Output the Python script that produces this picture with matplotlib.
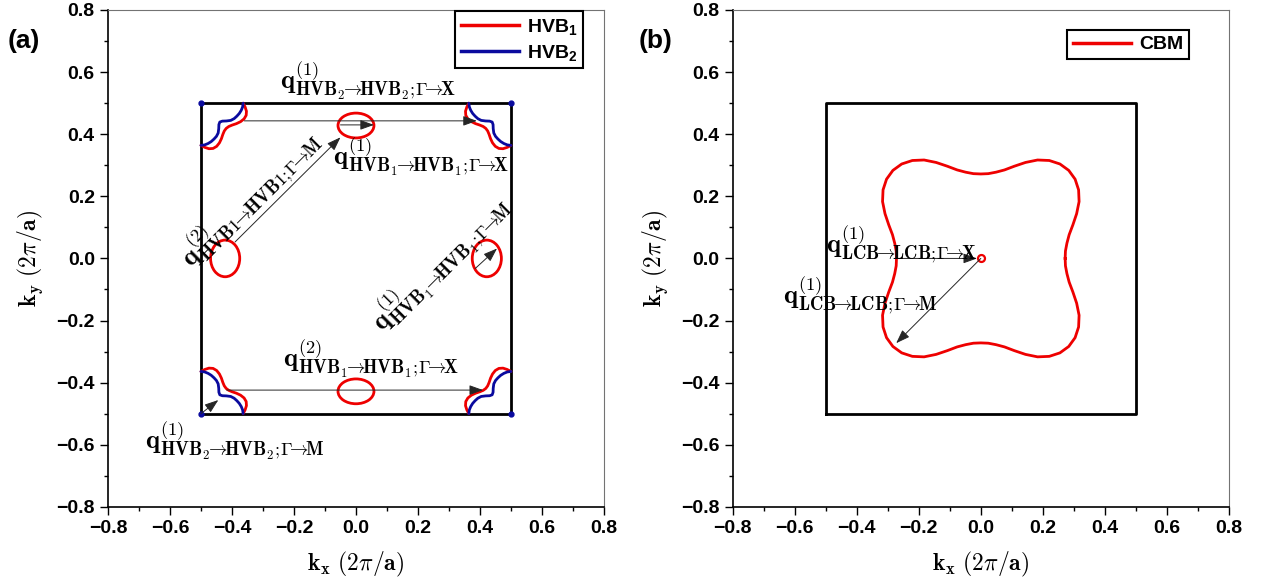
import numpy as np
import matplotlib
matplotlib.use('Agg')
import matplotlib.pyplot as plt
from matplotlib.patches import Ellipse
from matplotlib.lines import Line2D

plt.rcParams['font.family'] = ['Liberation Sans', 'DejaVu Sans']
plt.rcParams['font.weight'] = 'bold'
plt.rcParams['mathtext.fontset'] = 'cm'
# sans bold math for the legend entries (HVB subscripts)
plt.rcParams['mathtext.rm'] = 'Liberation Sans:bold'
plt.rcParams['mathtext.bf'] = 'Liberation Sans:bold'
plt.rcParams['mathtext.it'] = 'Liberation Sans:bold'

## Data
# first Brillouin zone (square lattice), units of 2pi/a
zone_x = [-0.5, 0.5, 0.5, -0.5, -0.5]
zone_y = [-0.5, -0.5, 0.5, 0.5, -0.5]
zone_corners = [(-0.5, 0.5), (0.5, 0.5), (-0.5, -0.5), (0.5, -0.5)]

# pocket radii around each M corner, 0..45 deg from the zone edge (mirror for 45..90)
octant_deg = [0, 5, 10, 15, 20, 25, 30, 35, 40, 45]
hvb1_corner_r = [0.136, 0.143, 0.149, 0.151, 0.148, 0.141, 0.132, 0.123, 0.117, 0.115]
hvb2_corner_r = [0.136, 0.135, 0.132, 0.128, 0.123, 0.118, 0.111, 0.100, 0.090, 0.086]

# HVB1 pockets near the X points: centre, full width, full height
hvb1_pocket_x = [0.0, 0.0, -0.422, 0.422]
hvb1_pocket_y = [0.428, -0.428, 0.0, 0.0]
hvb1_pocket_w = [0.116, 0.116, 0.094, 0.094]
hvb1_pocket_h = [0.080, 0.080, 0.118, 0.118]

# CBM Fermi contour around Gamma, radius vs angle 0..45 deg
cbm_r = [0.272, 0.274, 0.282, 0.295, 0.316, 0.341, 0.366, 0.385, 0.397, 0.401]

# nesting vectors (start -> end)
arrows_a = [((-0.36, 0.443), (0.39, 0.443)),
            ((-0.05, 0.430), (0.058, 0.430)),
            ((-0.39, 0.053), (-0.05, 0.390)),
            ((0.384, -0.033), (0.455, 0.032)),
            ((-0.417, -0.424), (0.41, -0.424)),
            ((-0.50, -0.50), (-0.444, -0.456))]
arrows_b = [((-0.278, 0.0), (-0.012, 0.0)),
            ((0.0, 0.0), (-0.273, -0.273))]

AR = r'\!\!\rightarrow\!\!'
SC = r';\!'
labels_a = [(0.04, 0.575, 0, r'$\mathbf{q^{(1)}_{HVB_2' + AR + r'HVB_2' + SC + r'\Gamma' + AR + r'X}}$'),
            (0.21, 0.330, 0, r'$\mathbf{q^{(1)}_{HVB_1' + AR + r'HVB_1' + SC + r'\Gamma' + AR + r'X}}$'),
            (0.05, -0.320, 0, r'$\mathbf{q^{(2)}_{HVB_1' + AR + r'HVB_1' + SC + r'\Gamma' + AR + r'X}}$'),
            (-0.39, -0.585, 0, r'$\mathbf{q^{(1)}_{HVB_2' + AR + r'HVB_2' + SC + r'\Gamma' + AR + r'M}}$'),
            (-0.345, 0.195, 45, r'$\mathbf{q^{(2)}_{HVB1' + AR + r'HVB1' + SC + r'\Gamma' + AR + r'M}}$'),
            (0.272, -0.013, 45, r'$\mathbf{q^{(1)}_{HVB_1' + AR + r'HVB_1' + SC + r'\Gamma' + AR + r'M}}$')]
labels_b = [(-0.256, 0.045, 0, r'$\mathbf{q^{(1)}_{LCB' + AR + r'LCB' + SC + r'\Gamma' + AR + r'X}}$'),
            (-0.39, -0.117, 0, r'$\mathbf{q^{(1)}_{LCB' + AR + r'LCB' + SC + r'\Gamma' + AR + r'M}}$')]

RED = '#ee0000'
BLUE = '#0a0a9e'


def quadrant(r_oct):
    # mirror an octant about 45 deg -> angles 0..90
    ang = octant_deg + [90 - a for a in octant_deg[-2::-1]]
    r = list(r_oct) + list(r_oct[-2::-1])
    return np.deg2rad(ang), np.array(r)


def corner_pocket(ax, cx, cy, r_oct, color):
    ang, r = quadrant(r_oct)
    x = cx - np.sign(cx) * r * np.cos(ang)
    y = cy - np.sign(cy) * r * np.sin(ang)
    ax.plot(x, y, color=color, lw=2.0, solid_capstyle='round')


def fmt(v, p):
    return f'{round(v, 1):.1f}'.replace('-0.0', '0.0').replace('-', '\u2212')


def style_axes(ax):
    ax.set_xlim(-0.8, 0.8)
    ax.set_ylim(-0.8, 0.8)
    ax.set_xticks(np.round(np.arange(-0.8, 0.81, 0.2), 1))
    ax.set_yticks(np.round(np.arange(-0.8, 0.81, 0.2), 1))
    ax.set_xticks(np.arange(-0.7, 0.8, 0.2), minor=True)
    ax.set_yticks(np.arange(-0.7, 0.8, 0.2), minor=True)
    ax.xaxis.set_major_formatter(plt.FuncFormatter(fmt))
    ax.yaxis.set_major_formatter(plt.FuncFormatter(fmt))
    ax.tick_params(which='both', direction='out', top=False, right=False, labelsize=14, width=1.0)
    ax.tick_params(which='major', length=6)
    ax.tick_params(which='minor', length=3)
    for lab in ax.get_xticklabels() + ax.get_yticklabels():
        lab.set_fontweight('bold')
    for s in ['left', 'bottom']:
        ax.spines[s].set_linewidth(1.2)
    for s in ['top', 'right']:
        ax.spines[s].set_linewidth(0.8)
        ax.spines[s].set_color('0.45')
    ax.set_xlabel(r'$\mathbf{k_x\ (2\pi/a)}$', fontsize=17, labelpad=9)
    ax.set_ylabel(r'$\mathbf{k_y\ (2\pi/a)}$', fontsize=17, labelpad=8)


def draw_arrows(ax, arrows):
    for start, end in arrows:
        ax.annotate('', xy=end, xytext=start,
                    arrowprops=dict(arrowstyle='-|>,head_length=0.7,head_width=0.25',
                                    color='0.15', lw=0.7, shrinkA=0, shrinkB=0,
                                    mutation_scale=12))


def draw_labels(ax, labels):
    for x, y, rot, s in labels:
        ax.text(x, y, s, fontsize=19, ha='center', va='center', rotation=rot,
                rotation_mode='anchor')


fig = plt.figure(figsize=(12.7, 5.88), dpi=100)
ax1 = fig.add_axes([0.085, 0.138, 0.3906, 0.845])
ax2 = fig.add_axes([0.577, 0.138, 0.3906, 0.845])

## (a) valence band pockets
ax1.plot(zone_x, zone_y, color='k', lw=2.0)
for cx, cy in zone_corners:
    corner_pocket(ax1, cx, cy, hvb1_corner_r, RED)
    corner_pocket(ax1, cx, cy, hvb2_corner_r, BLUE)
ax1.plot([c[0] for c in zone_corners], [c[1] for c in zone_corners], 'o',
         color=BLUE, ms=3.5, ls='none')
for x, y, w, h in zip(hvb1_pocket_x, hvb1_pocket_y, hvb1_pocket_w, hvb1_pocket_h):
    ax1.add_patch(Ellipse((x, y), w, h, fill=False, edgecolor=RED, lw=2.0))
draw_arrows(ax1, arrows_a)
draw_labels(ax1, labels_a)
style_axes(ax1)
legend_prop = dict(size=14, weight='bold', math_fontfamily='custom')
handles = [Line2D([], [], color=RED, lw=2.5), Line2D([], [], color=BLUE, lw=2.5)]
leg = ax1.legend(handles, ['HVB$_1$', 'HVB$_2$'], loc='upper right',
                 bbox_to_anchor=(0.958, 0.998), borderaxespad=0, prop=legend_prop,
                 handlelength=3.0, fancybox=False, edgecolor='k', framealpha=1,
                 borderpad=0.3, labelspacing=0.3, handletextpad=0.4)
leg.get_frame().set_linewidth(1.5)

## (b) conduction band minimum
ax2.plot(zone_x, zone_y, color='k', lw=2.0)
ang, r = quadrant(cbm_r)
ang_full = np.concatenate([ang[:-1] + q * np.pi / 2 for q in range(4)] + [ang[:1]])
r_full = np.concatenate([r[:-1]] * 4 + [r[:1]])
ax2.plot(r_full * np.cos(ang_full), r_full * np.sin(ang_full), color=RED, lw=2.0)
ax2.plot([0.0], [0.0], 'o', mfc='none', mec=RED, mew=1.6, ms=5)
draw_arrows(ax2, arrows_b)
draw_labels(ax2, labels_b)
style_axes(ax2)
leg2 = ax2.legend([Line2D([], [], color=RED, lw=2.5)], ['CBM'], loc='upper right',
                  bbox_to_anchor=(0.92, 0.96), borderaxespad=0, prop=legend_prop,
                  handlelength=3.0, fancybox=False, edgecolor='k', framealpha=1,
                  borderpad=0.3, handletextpad=0.4)
leg2.get_frame().set_linewidth(1.5)

fig.text(0.006, 0.93, '(a)', fontsize=19, fontweight='bold', va='center')
fig.text(0.503, 0.93, '(b)', fontsize=19, fontweight='bold', va='center')

fig.savefig('out.png', dpi=100)
